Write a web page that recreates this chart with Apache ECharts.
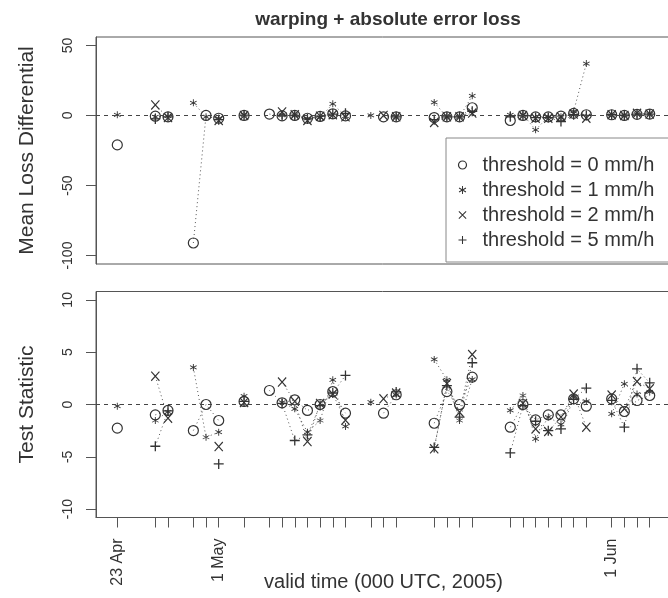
<!DOCTYPE html>
<html><head><meta charset="utf-8">
<script src="https://cdn.jsdelivr.net/npm/echarts@6/dist/echarts.min.js"></script>
<style>html,body{margin:0;padding:0;background:#fff}#c{width:668px;height:598px}</style>
</head><body><div id="c"></div>
<script>
// ---- data ----
const dates = ['2005-04-23','2005-04-26','2005-04-27','2005-04-29','2005-04-30','2005-05-01','2005-05-03','2005-05-05',
  '2005-05-06','2005-05-07','2005-05-08','2005-05-09','2005-05-10','2005-05-11','2005-05-13','2005-05-14','2005-05-15',
  '2005-05-18','2005-05-19','2005-05-20','2005-05-21','2005-05-24','2005-05-25','2005-05-26','2005-05-27','2005-05-28',
  '2005-05-29','2005-05-30','2005-06-01','2005-06-02','2005-06-03','2005-06-04'];
const seriesNames = ['threshold = 0 mm/h','threshold = 1 mm/h','threshold = 2 mm/h','threshold = 5 mm/h'];
const tickLabelDates = ['2005-04-23','2005-05-01','2005-06-01'];
const tickLabels = ['23 Apr','1 May','1 Jun'];
const lossTicks = [-100,-50,0,50];
const statTicks = [-10,-5,0,5,10];

const lossThr0 = [-21,-0.5,-1,-91,0,-2,0,1,-0.3,0,-2,-0.7,1.2,-0.3,null,-1,-1,-1.5,-1,-1,5.5,-3.6,0,-1,-1,-0.5,1.5,0.5,0.5,0,0.8,1];
const lossThr1 = [0.5,-1,-0.5,9,-1,-2,0.5,null,0,0,-2,-1.5,8.3,-0.5,0,null,-1,9.3,-1,-1,14,0.5,0.5,-10.2,-1,-1,3,37,0,0,1,1];
const lossThr2 = [null,7.5,-1.5,null,null,-3.6,0,null,2.5,0.5,-3.6,-0.5,0.5,-1,null,0,-1,-5,-1,-1,1.7,null,0,-2,-2,-1,1,-2,0.5,0,1.5,1];
const lossThr5 = [null,-2.5,-1,null,null,-3,0.3,null,0,0,-2.5,-0.5,1,1.5,null,null,-1,-3,-1,-1,3,-1,0,-1.5,-1.5,-4.3,0.5,0,0.5,0,1,1];

const statThr0 = [-2.26,-0.99,-0.57,-2.49,0,-1.53,0.29,1.34,0.16,0.45,-0.57,0,1.24,-0.83,null,-0.83,0.93,-1.79,1.24,0,2.62,-2.17,0,-1.47,-0.99,-0.99,0.54,-0.16,0.54,-0.67,0.38,0.86];
const statThr1 = [-0.16,-1.53,-0.7,3.54,-3.13,-2.65,0.8,null,0.2,-0.41,-2.65,-1.53,2.36,-2.1,0.22,null,0.9,4.31,2.36,-1.53,2.4,-0.57,0.86,-3.29,-1.2,-1.9,0.7,0.3,-0.89,1.98,1.0,1.2];
const statThr2 = [null,2.71,-1.31,null,null,-4.02,0.2,null,2.14,0.3,-3.54,0.1,1.0,-1.5,null,0.54,1.1,-4.24,2.0,-0.73,4.78,null,0.1,-2.33,-2.58,-1.2,1.0,-2.17,0.9,-0.4,2.2,1.5];
const statThr5 = [null,-3.99,-0.6,null,null,-5.68,0.3,null,0.1,-3.44,-2.9,-0.1,1.1,2.78,null,null,1.2,-4.1,1.8,-1.2,3.99,-4.63,-0.1,-1.6,-2.5,-2.33,0.5,1.56,0.4,-2.17,3.41,2.07];

// ---- helpers ----
const DAY = 86400000;
const t0 = Date.UTC(2005,3,23);
const toDay = s => { const p = s.split('-').map(Number); return Math.round((Date.UTC(p[0],p[1]-1,p[2]) - t0)/DAY); };
const days = dates.map(toDay);
const labelDays = tickLabelDates.map(toDay);

function lineData(vals){
  const out = [];
  for (let i=0;i<days.length;i++){
    if (i>0 && days[i]-days[i-1]>1) out.push([(days[i]+days[i-1])/2, null]);
    out.push([days[i], vals[i]]);
  }
  return out;
}

const FONT = '"Liberation Sans", Arial, Helvetica, sans-serif';
const INK = '#333';
const AX = '#555';
const PLUS = 'path://M4.35,0H5.65V4.35H10V5.65H5.65V10H4.35V5.65H0V4.35H4.35Z';
const CROSS = 'path://M0,0.9L0.9,0L10,9.1L9.1,10ZM9.1,0L10,0.9L0.9,10L0,9.1Z';
const STAR = 'path://M4.4,0H5.6V10H4.4ZM0.97,1.98L9.63,6.98L9.03,8.02L0.37,3.02ZM0.37,6.98L9.03,1.98L9.63,3.02L0.97,8.02Z';
const symbols = [
  {symbol:'circle', size:10, item:{color:'none', borderColor:INK, borderWidth:1.2}},
  {symbol:STAR, size:7, item:{color:INK, borderWidth:0}},
  {symbol:CROSS, size:[9,10], item:{color:INK, borderWidth:0}},
  {symbol:PLUS, size:10, item:{color:INK, borderWidth:0}}
];

const X_MIN = -1.68, X_MAX = 43.68;
const gridLeft = 96, gridWidth = 575;

function mkSeries(vals, k, ax, withZero){
  const s = {
    name: seriesNames[k], type:'line', xAxisIndex:ax, yAxisIndex:ax,
    data: lineData(vals), symbol: symbols[k].symbol, symbolSize: symbols[k].size,
    showAllSymbol: true, connectNulls:false, animation:false, z: 3,
    itemStyle: symbols[k].item,
    lineStyle: {type:[1,3], width:1, color:'#555'},
    emphasis:{disabled:true}
  };
  if (withZero) s.markLine = {silent:true, symbol:['none','none'], label:{show:false},
    lineStyle:{type:[4,4], color:'#444', width:1}, data:[{yAxis:0}], animation:false};
  return s;
}

const lossSets = [lossThr0, lossThr1, lossThr2, lossThr5];
const statSets = [statThr0, statThr1, statThr2, statThr5];
const series = [];
lossSets.forEach((v,k)=>series.push(mkSeries(v,k,0,k===0)));
statSets.forEach((v,k)=>series.push(mkSeries(v,k,1,k===0)));

const yLabel = {rotate:90, fontSize:14, color:INK, fontFamily:FONT, margin:21};
const yName = {fontSize:21, color:INK, fontFamily:FONT};

const option = {
  backgroundColor:'#fff',
  animation:false,
  title:{text:'warping + absolute error loss', left:383, top:5, textAlign:'center',
    textStyle:{fontSize:19, fontWeight:'bold', color:INK, fontFamily:FONT}},
  legend:{
    orient:'vertical', left:446, top:138, padding:[17,60,12,10], itemGap:5,
    itemWidth:14, itemHeight:8, backgroundColor:'#fff', borderColor:'#888', borderWidth:1,
    textStyle:{fontSize:20, color:INK, fontFamily:FONT, padding:[0,0,0,8]}, selectedMode:false,
    data: seriesNames.map((n,k)=>({name:n, icon: k===0?'circle':symbols[k].symbol,
      itemStyle: k===0?{color:'none',borderColor:INK,borderWidth:1.2}:{color:INK}}))
  },
  grid:[
    {left:gridLeft, top:37, width:gridWidth, height:227, show:true, borderColor:AX, borderWidth:1,
     backgroundColor:'transparent', containLabel:false, outerBoundsMode:'none'},
    {left:gridLeft, top:291.5, width:gridWidth, height:226, show:true, borderColor:AX, borderWidth:1,
     backgroundColor:'transparent', containLabel:false, outerBoundsMode:'none'}
  ],
  xAxis:[
    {gridIndex:0, type:'value', min:X_MIN, max:X_MAX, axisLine:{show:false, onZero:false}, axisTick:{show:false},
     axisLabel:{show:false}, splitLine:{show:false}},
    {gridIndex:1, type:'value', min:X_MIN, max:X_MAX,
     axisLine:{show:true, onZero:false, lineStyle:{color:AX}},
     axisTick:{show:true, inside:false, length:10, customValues:days, lineStyle:{color:AX}},
     axisLabel:{show:true, customValues:labelDays, rotate:90, fontSize:16, color:INK, fontFamily:FONT, margin:21,
       formatter:v=>{const i=labelDays.indexOf(Math.round(v)); return i>=0?tickLabels[i]:'';}},
     splitLine:{show:false},
     name:'valid time (000 UTC, 2005)', nameLocation:'middle', nameGap:55, nameMoveOverlap:false,
     nameTextStyle:{fontSize:20, color:INK, fontFamily:FONT}}
  ],
  yAxis:[
    {gridIndex:0, type:'value', min:-106, max:56,
     axisLine:{show:true, onZero:false, lineStyle:{color:AX}},
     axisTick:{show:true, inside:false, length:10, customValues:lossTicks, lineStyle:{color:AX}},
     axisLabel:Object.assign({customValues:lossTicks}, yLabel), splitLine:{show:false},
     name:'Mean Loss Differential', nameLocation:'middle', nameGap:58, nameRotate:90, nameMoveOverlap:false,
     nameTextStyle:yName},
    {gridIndex:1, type:'value', min:-10.8, max:10.8,
     axisLine:{show:true, onZero:false, lineStyle:{color:AX}},
     axisTick:{show:true, inside:false, length:10, customValues:statTicks, lineStyle:{color:AX}},
     axisLabel:Object.assign({customValues:statTicks}, yLabel), splitLine:{show:false},
     name:'Test Statistic', nameLocation:'middle', nameGap:58, nameRotate:90, nameMoveOverlap:false,
     nameTextStyle:yName}
  ],
  series: series
};
const chart = echarts.init(document.getElementById('c'), null, {renderer:'canvas'});
chart.setOption(option);
</script></body></html>
